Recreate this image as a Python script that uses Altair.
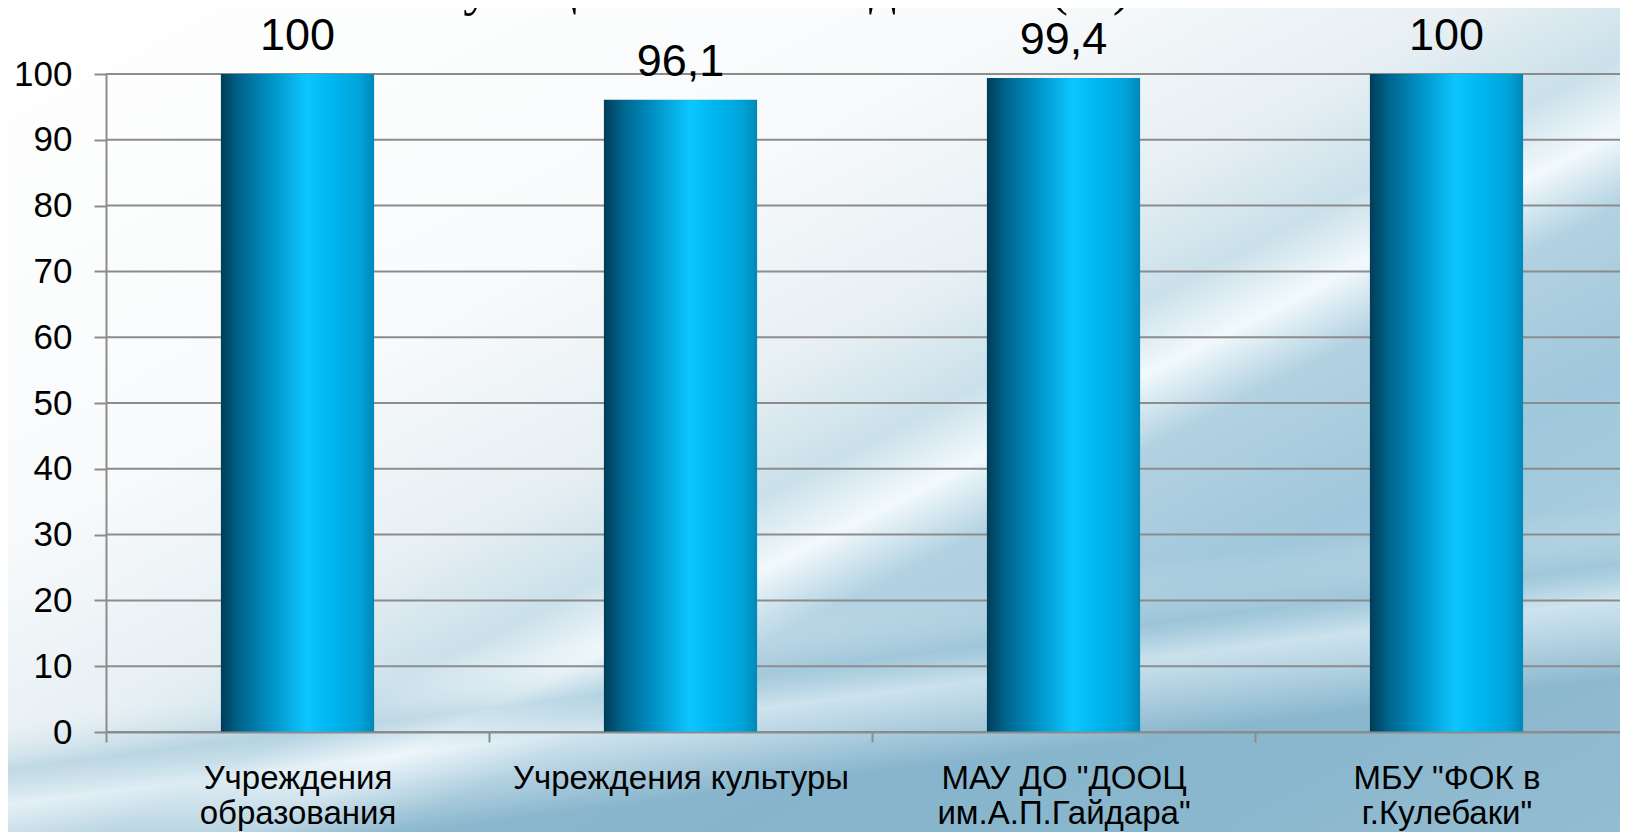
import altair as alt
import pandas as pd

# ---- data ----
categories = [
    "Учреждения\nобразования",
    "Учреждения культуры",
    'МАУ ДО "ДООЦ\nим.А.П.Гайдара"',
    'МБУ "ФОК в\nг.Кулебаки"',
]
values = [100, 96.1, 99.4, 100]
value_labels = ["100", "96,1", "99,4", "100"]
y_ticks = [0, 10, 20, 30, 40, 50, 60, 70, 80, 90, 100]
title_text = "муниципальным заданием (%)"

# ---- layout ----
W, H = 1514, 658
PAD = {"left": 98, "top": 66, "right": 0, "bottom": 100}
FONT = "Liberation Sans, Arial, sans-serif"

df = pd.DataFrame({"cat": categories, "value": values, "label": value_labels})
grid_df = pd.DataFrame({"value": y_ticks})

x_scale = alt.Scale(range=[0, 1532], paddingInner=0, paddingOuter=0)
y_scale = alt.Scale(domain=[0, 100], nice=False)

# background (decoration)
bg_gradient = {
    "gradient": "linear",
    "x1": 0, "y1": 0, "x2": 1, "y2": 1,
    "stops": [
        {"offset": 0.0, "color": "#ffffff"},
        {"offset": 0.32, "color": "#f8fafb"},
        {"offset": 0.46, "color": "#e6eff3"},
        {"offset": 0.53, "color": "#cae0ea"},
        {"offset": 0.575, "color": "#f2f9fc"},
        {"offset": 0.62, "color": "#b2d2e2"},
        {"offset": 0.72, "color": "#a0c7db"},
        {"offset": 0.85, "color": "#aacfe0"},
        {"offset": 1.0, "color": "#c8deea"},
    ],
}
bg_bottom = {
    "gradient": "linear",
    "x1": 0, "y1": 0, "x2": 0.25, "y2": 1,
    "stops": [
        {"offset": 0.0, "color": "rgba(255,255,255,0)"},
        {"offset": 0.80, "color": "rgba(255,255,255,0)"},
        {"offset": 0.87, "color": "rgba(150,192,212,0.45)"},
        {"offset": 0.91, "color": "rgba(235,245,250,0.55)"},
        {"offset": 1.0, "color": "rgba(120,170,196,0.65)"},
    ],
}
one = pd.DataFrame({"k": [0]})
bg = alt.Chart(one).mark_rect(fill=bg_gradient).encode(
    x=alt.value(-PAD["left"]), x2=alt.value(W),
    y=alt.value(-PAD["top"]), y2=alt.value(H + PAD["bottom"]),
)
bg2 = alt.Chart(one).mark_rect(fill=bg_bottom).encode(
    x=alt.value(-PAD["left"]), x2=alt.value(W),
    y=alt.value(-PAD["top"]), y2=alt.value(H + PAD["bottom"]),
)

# clipped title at the very top
title = alt.Chart(pd.DataFrame({"t": [title_text]})).mark_text(
    font="Liberation Serif, Times New Roman, serif", fontSize=54,
    baseline="alphabetic", align="center", color="#000000",
).encode(text="t:N", x=alt.value(674), y=alt.value(-70))

y_axis = alt.Axis(
    values=y_ticks, labelFont=FONT, labelFontSize=35, labelColor="#000000",
    labelPadding=22, tickSize=12, tickColor="#8c8c8c", tickWidth=2,
    domainColor="#8c8c8c", domainWidth=2, grid=False, zindex=1,
)

# gridlines
grid = alt.Chart(grid_df).mark_rule(color="#8c8c8c", strokeWidth=2).encode(
    y=alt.Y("value:Q", scale=y_scale, axis=y_axis, title=""),
    x=alt.value(0), x2=alt.value(W),
)

bar_gradient = {
    "gradient": "linear",
    "x1": 0, "y1": 0, "x2": 1, "y2": 0,
    "stops": [
        {"offset": 0.0, "color": "#003d58"},
        {"offset": 0.12, "color": "#00648c"},
        {"offset": 0.32, "color": "#0090c4"},
        {"offset": 0.56, "color": "#0cc6ff"},
        {"offset": 0.72, "color": "#00b6f0"},
        {"offset": 0.9, "color": "#00a4da"},
        {"offset": 1.0, "color": "#0088b8"},
    ],
}

x_enc = alt.X(
    "cat:N", sort=categories, scale=x_scale, title="",
    axis=alt.Axis(
        labelAngle=0, labelExpr="split(datum.label, '\\n')",
        labelFont=FONT, labelFontSize=33, labelColor="#000000",
        labelLineHeight=35, labelLimit=0, labelPadding=20,
        labelOverlap=False,
        tickBand="extent", tickSize=10, tickColor="#8c8c8c", tickWidth=2,
        domainColor="#8c8c8c", domainWidth=2, grid=False, zindex=1,
    ),
)
y_enc = alt.Y("value:Q", scale=y_scale, axis=y_axis, title="")

bars = alt.Chart(df).mark_bar(
    color=bar_gradient, width=alt.RelativeBandSize(0.4)
).encode(x=x_enc, y=y_enc)

labels = alt.Chart(df).mark_text(
    font=FONT, fontSize=45, baseline="alphabetic", align="center",
    dy=-24, color="#000000",
).encode(
    x=alt.X("cat:N", sort=categories, scale=x_scale),
    y=alt.Y("value:Q", scale=y_scale),
    text="label:N",
)

chart = (
    alt.layer(bg, bg2, title, grid, bars, labels)
    .properties(
        width=W, height=H,
        autosize=alt.AutoSizeParams(type="none"),
        padding=PAD,
        background="#ffffff",
    )
    .configure_view(strokeWidth=0)
)

chart.save("out.html", embed_options={"renderer": "svg", "actions": False})
